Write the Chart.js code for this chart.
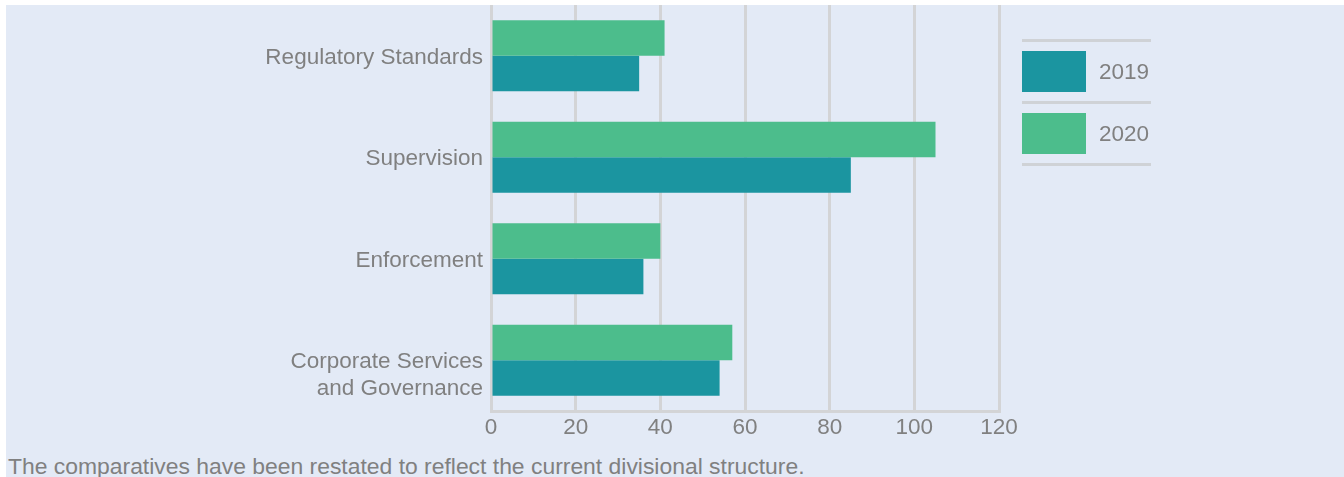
<!DOCTYPE html>
<html>
<head>
<meta charset="utf-8">
<script src="https://cdn.jsdelivr.net/npm/chart.js@4"></script>
<style>
    body{ margin:0; background:#ffffff; font-family:"Liberation Sans", Arial, sans-serif; }
    .panel{ position:absolute; left:6px; top:5px; width:1338px; height:472px; background:#E3EAF6; }
    .chart-box{ position:absolute; left:0; top:0; width:1338px; height:442px; }
    .legend{ position:absolute; left:1016px; top:34px; width:130px; }
    .legend-sep{ height:3px; background:#cfd2d6; width:129px; }
    .legend-item{ display:flex; align-items:center; height:59px; }
    .legend-box{ width:64px; height:41px; }
    .legend-text{ margin-left:13px; font-size:22.5px; color:#808080; }
    .caption{ position:absolute; left:2px; top:448px; font-size:22.9px; color:#808080; white-space:nowrap; }
</style>
</head>
<body>
<div class="panel">
    <div class="chart-box"><canvas id="bar_canvas" width="1338" height="442"></canvas></div>
    <div class="legend" id="legend"></div>
    <div class="caption">The comparatives have been restated to reflect the current divisional structure.</div>
</div>
<script>
// the empty first line keeps "Corporate Services" level with the bar group centre
const categories = [
    "Regulatory Standards",
    "Supervision",
    "Enforcement",
    ["", "Corporate Services", "and Governance"]
];
const series_labels = ["2019", "2020"];
const values_2019 = [35, 85, 36, 54];
const values_2020 = [41, 105, 40, 57];
const x_ticks = [0, 20, 40, 60, 80, 100, 120];

const color_2019 = "#1B95A0";
const color_2020 = "#4CBD8C";
const text_color = "#808080";
const grid_color = "#d3d4d6";
const font_size = 22.5;

document.addEventListener("DOMContentLoaded", ()=>{
    let canvas = document.getElementById("bar_canvas");

    // 2020 drawn first so it sits above 2019 in each group
    let chart = new Chart(canvas, {
        type: "bar",
        data: {
            labels: categories,
            datasets: [
                { label: series_labels[1], data: values_2020, backgroundColor: color_2020 },
                { label: series_labels[0], data: values_2019, backgroundColor: color_2019 }
            ]
        },
        options: {
            indexAxis: "y",
            responsive: false,
            animation: false,
            maintainAspectRatio: false,
            categoryPercentage: 0.7,
            barPercentage: 1.0,
            layout: { padding: { left: 0, right: 345, top: 0, bottom: 0 } },
            plugins: {
                legend: { display: false },
                tooltip: { enabled: false }
            },
            scales: {
                x: {
                    min: x_ticks[0],
                    max: x_ticks[x_ticks.length - 1],
                    afterBuildTicks: (scale)=>{ scale.ticks = x_ticks.map(v => ({ value: v })); },
                    grid: { color: grid_color, lineWidth: 3, drawTicks: false },
                    border: { color: grid_color, width: 3 },
                    ticks: { color: text_color, font: { family: "Liberation Sans", size: font_size }, padding: 3 },
                    afterFit: (scale)=>{ scale.height = 36; }
                },
                y: {
                    grid: { display: false, drawTicks: false },
                    border: { display: false },
                    ticks: { color: text_color, font: { family: "Liberation Sans", size: font_size }, padding: 8, labelOffset: 2 },
                    afterFit: (scale)=>{
                        scale.width = 485;
                        scale.paddingTop = 0;
                        scale.paddingBottom = 0;
                    }
                }
            }
        }
    });

    build_legend(document.getElementById("legend"), [
        { label: series_labels[0], color: color_2019 },
        { label: series_labels[1], color: color_2020 }
    ]);
});

function build_legend(container, items){
    container.appendChild(make_div("legend-sep"));
    items.forEach(item=>{
        let row = make_div("legend-item");
        let box = make_div("legend-box");
        box.style.background = item.color;
        let text = make_div("legend-text");
        text.textContent = item.label;
        row.appendChild(box);
        row.appendChild(text);
        container.appendChild(row);
        container.appendChild(make_div("legend-sep"));
    });
}

function make_div(cls){
    let d = document.createElement("div");
    d.className = cls;
    return d;
}
</script>
</body>
</html>
